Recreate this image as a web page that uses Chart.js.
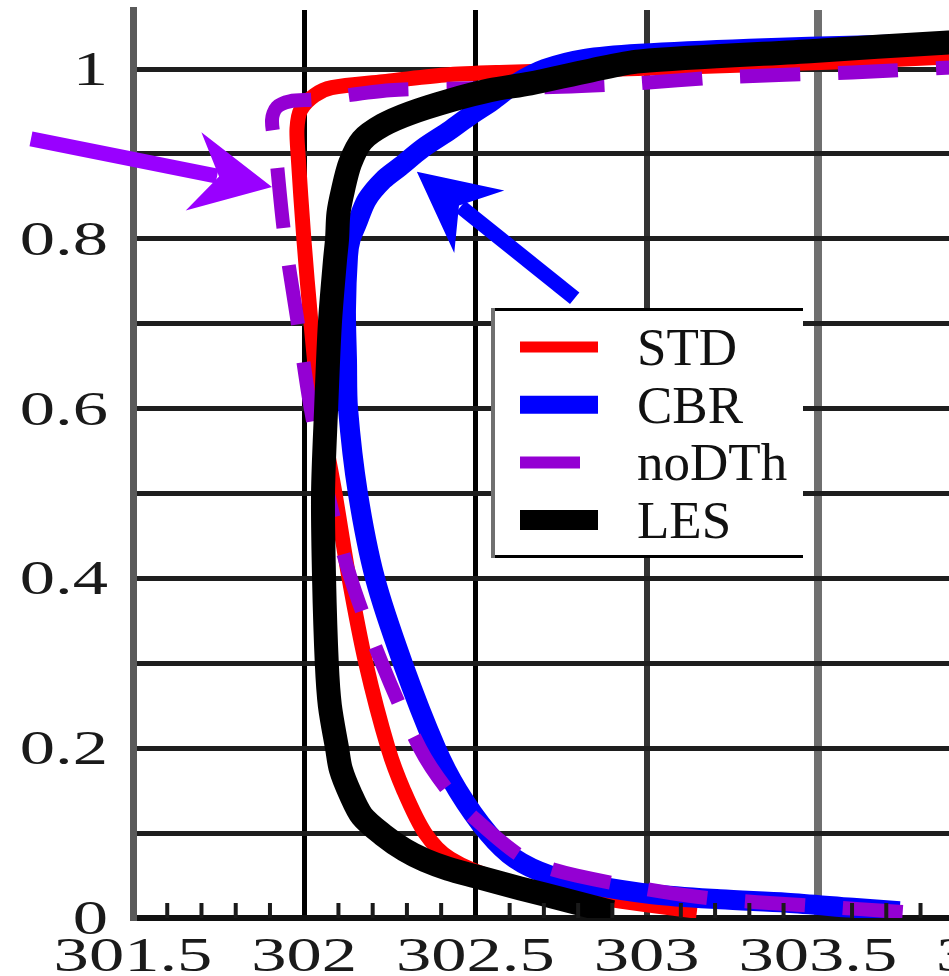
<!DOCTYPE html>
<html>
<head>
<meta charset="utf-8">
<script src="https://cdn.jsdelivr.net/npm/chart.js@4.4.1/dist/chart.umd.min.js"></script>
<style>
  html, body { margin: 0; padding: 0; background: #fff; overflow: hidden; }
  #wrap { width: 949px; height: 976px; overflow: hidden; }
</style>
</head>
<body>
<div id="wrap"><canvas id="profile-chart" width="1010" height="976"></canvas></div>
<script>
// temperature (x) and normalised height (y) for each profile
const stdTemp = [303.147, 303.068, 302.922, 302.747, 302.572, 302.426, 302.353, 302.291, 302.245, 302.18, 302.131, 302.09, 302.046, 302.02, 301.999, 301.982, 301.979, 301.99, 302.03, 302.08, 302.23, 302.41, 302.57, 303.0, 303.53, 303.88, 304.1];
const stdZ    = [0.008, 0.012, 0.02, 0.03, 0.045, 0.07, 0.1, 0.15, 0.2, 0.3, 0.4, 0.5, 0.6, 0.7, 0.8, 0.9, 0.93, 0.952, 0.969, 0.978, 0.985, 0.993, 0.996, 1.001, 1.008, 1.014, 1.017];

const cbrTemp = [303.739, 303.602, 303.409, 303.214, 303.018, 302.826, 302.718, 302.615, 302.537, 302.449, 302.385, 302.288, 302.207, 302.157, 302.128, 302.125, 302.122, 302.128, 302.136, 302.154, 302.183, 302.23, 302.28, 302.347, 302.426, 302.484, 302.548, 302.615, 302.703, 302.82, 302.98, 303.3, 303.65, 303.88, 304.1];
const cbrZ    = [0.008, 0.012, 0.018, 0.022, 0.028, 0.04, 0.05, 0.07, 0.1, 0.15, 0.2, 0.3, 0.4, 0.5, 0.6, 0.657, 0.716, 0.78, 0.8, 0.818, 0.846, 0.869, 0.885, 0.907, 0.928, 0.945, 0.962, 0.982, 1.0, 1.012, 1.018, 1.024, 1.028, 1.031, 1.033];

const nodTemp = [303.748, 303.497, 303.147, 302.796, 302.645, 302.504, 302.42, 302.338, 302.227, 302.136, 302.069, 302.017, 301.979, 301.941, 301.915, 301.906, 301.92, 301.958, 302.031, 302.25, 302.45, 302.75, 302.97, 303.21, 303.6, 303.95, 304.1];
const nodZ    = [0.007, 0.014, 0.025, 0.05, 0.07, 0.115, 0.15, 0.2, 0.3, 0.4, 0.5, 0.605, 0.707, 0.808, 0.91, 0.94, 0.955, 0.962, 0.964, 0.975, 0.977, 0.979, 0.983, 0.99, 0.996, 1.003, 1.005];

const lesTemp = [302.899, 302.776, 302.63, 302.501, 302.42, 302.353, 302.294, 302.23, 302.169, 302.134, 302.107, 302.096, 302.075, 302.066, 302.058, 302.055, 302.064, 302.075, 302.09, 302.096, 302.1, 302.113, 302.134, 302.169, 302.23, 302.309, 302.426, 302.542, 302.66, 302.834, 302.98, 303.477, 303.87, 304.1];
const lesZ    = [0.007, 0.02, 0.035, 0.049, 0.058, 0.068, 0.08, 0.098, 0.12, 0.147, 0.175, 0.2, 0.25, 0.3, 0.4, 0.5, 0.6, 0.7, 0.775, 0.8, 0.83, 0.857, 0.889, 0.916, 0.934, 0.948, 0.963, 0.975, 0.983, 0.998, 1.009, 1.021, 1.031, 1.035];

const seriesNames = ['STD', 'CBR', 'noDTh', 'LES'];

const xTickLabels = [301.5, 302, 302.5, 303, 303.5, 304];
const yTickLabels = [1, 0.8, 0.6, 0.4, 0.2, 0];
const yGridValues = [0.1, 0.2, 0.3, 0.4, 0.5, 0.6, 0.7, 0.8, 0.9, 1];
const xMinorTicks = [301.6, 301.7, 301.8, 301.9, 302.1, 302.2, 302.3, 302.4, 302.6, 302.7, 302.8, 302.9, 303.1, 303.2, 303.3, 303.4, 303.6, 303.7, 303.8, 303.9];

// annotation arrows, [tail, tip] in data units
const arrowPurple = [[301.202, 0.9176], [301.906, 0.861]];
const arrowBlue   = [[302.79, 0.730], [302.329, 0.879]];

const toPoints = (xs, ys) => xs.map((x, i) => ({ x: x, y: ys[i] }));

const serif = "'Liberation Serif', 'Times New Roman', serif";
const legendWidths = [11, 18, 12, 20];

const vGridColor = ['#000', '#000', '#333', '#6f6f6f', '#555'];
const vGridWidth = [5, 5, 6, 8, 6];

function drawArrow(ctx, x, y, pts, color) {
    const tx = x.getPixelForValue(pts[0][0]), ty = y.getPixelForValue(pts[0][1]);
    const hx = x.getPixelForValue(pts[1][0]), hy = y.getPixelForValue(pts[1][1]);
    const len = Math.hypot(hx - tx, hy - ty);
    const dx = (hx - tx) / len, dy = (hy - ty) / len;
    const nx = -dy, ny = dx;
    ctx.save();
    ctx.strokeStyle = color;
    ctx.fillStyle = color;
    ctx.lineWidth = 15;
    ctx.lineCap = 'butt';
    ctx.beginPath();
    ctx.moveTo(tx, ty);
    ctx.lineTo(hx - 56 * dx, hy - 56 * dy);
    ctx.stroke();
    ctx.beginPath();
    ctx.moveTo(hx, hy);
    ctx.lineTo(hx - 80 * dx + 40 * nx, hy - 80 * dy + 40 * ny);
    ctx.lineTo(hx - 54 * dx, hy - 54 * dy);
    ctx.lineTo(hx - 80 * dx - 40 * nx, hy - 80 * dy - 40 * ny);
    ctx.closePath();
    ctx.fill();
    ctx.restore();
}

const decorations = {
    id: 'decorations',
    afterDraw(chart) {
        const ctx = chart.ctx;
        const x = chart.scales.x, y = chart.scales.y;
        const area = chart.chartArea;

        // inward minor ticks on the x axis
        ctx.save();
        ctx.strokeStyle = '#1a1a1a';
        ctx.lineWidth = 4;
        xMinorTicks.forEach(v => {
            const px = x.getPixelForValue(v);
            ctx.beginPath();
            ctx.moveTo(px, area.bottom);
            ctx.lineTo(px, area.bottom - 15);
            ctx.stroke();
        });
        ctx.restore();

        // tick labels (wide serif digits)
        ctx.save();
        ctx.fillStyle = '#1a1a1a';
        ctx.font = '48px ' + serif;
        yTickLabels.forEach(v => {
            ctx.save();
            ctx.translate(area.left - 25, y.getPixelForValue(v) + 16);
            ctx.scale(1.47, 1);
            ctx.textAlign = 'right';
            ctx.fillText(String(v), 0, 0);
            ctx.restore();
        });
        xTickLabels.forEach(v => {
            ctx.save();
            ctx.translate(x.getPixelForValue(v), area.bottom + 53);
            ctx.scale(1.47, 1);
            ctx.textAlign = 'center';
            ctx.fillText(String(v), 0, 0);
            ctx.restore();
        });
        ctx.restore();

        // legend box
        const lx = area.left + 358, ly = area.top + 298, lw = 312, lh = 250;
        ctx.save();
        ctx.fillStyle = '#fff';
        ctx.fillRect(lx, ly, lw, lh);
        ctx.strokeStyle = '#000';
        ctx.lineWidth = 3;
        ctx.beginPath();
        ctx.moveTo(lx, ly + 1.5); ctx.lineTo(lx + lw, ly + 1.5);
        ctx.moveTo(lx, ly + lh - 1.5); ctx.lineTo(lx + lw, ly + lh - 1.5);
        ctx.stroke();
        ctx.strokeStyle = '#707070';
        ctx.lineWidth = 4;
        ctx.beginPath();
        ctx.moveTo(lx + 2, ly); ctx.lineTo(lx + 2, ly + lh);
        ctx.stroke();
        ctx.font = '53px ' + serif;
        ctx.textAlign = 'left';
        chart.data.datasets.forEach((ds, i) => {
            const cy = ly + 39 + i * 57.7;
            ctx.save();
            ctx.strokeStyle = ds.borderColor;
            ctx.lineWidth = legendWidths[i];
            ctx.lineCap = 'butt';
            ctx.setLineDash(ds.borderDash || []);
            ctx.beginPath();
            ctx.moveTo(lx + 29, cy);
            ctx.lineTo(lx + 107, cy);
            ctx.stroke();
            ctx.restore();
            ctx.fillStyle = '#111';
            ctx.fillText(ds.label, lx + 146, cy + 18);
        });
        ctx.restore();

        drawArrow(ctx, x, y, arrowPurple, '#9900ff');
        drawArrow(ctx, x, y, arrowBlue, '#0000ff');
    }
};

new Chart(document.getElementById('profile-chart'), {
    type: 'scatter',
    data: {
        datasets: [
            { label: seriesNames[0], data: toPoints(stdTemp, stdZ), borderColor: '#ff0000', borderWidth: 15, order: 4 },
            { label: seriesNames[1], data: toPoints(cbrTemp, cbrZ), borderColor: '#0000ff', borderWidth: 20, order: 3 },
            { label: seriesNames[2], data: toPoints(nodTemp, nodZ), borderColor: '#9400d3', borderWidth: 14, borderDash: [60, 38], order: 2 },
            { label: seriesNames[3], data: toPoints(lesTemp, lesZ), borderColor: '#000000', borderWidth: 24, order: 1 }
        ].map(ds => Object.assign(ds, { showLine: true, pointRadius: 0, fill: false, tension: 0.3, borderCapStyle: 'butt' }))
    },
    options: {
        responsive: false,
        animation: false,
        devicePixelRatio: 1,
        layout: { padding: { top: 10, right: 21, left: 0, bottom: 0 } },
        plugins: { legend: { display: false }, tooltip: { enabled: false } },
        scales: {
            x: {
                type: 'linear',
                min: 301.5,
                max: 304,
                afterBuildTicks: s => { s.ticks = xTickLabels.slice(1).map(v => ({ value: v })); },
                afterFit: s => { s.height = 58; },
                ticks: { display: false },
                grid: {
                    drawTicks: false,
                    color: c => vGridColor[c.index] || '#333',
                    lineWidth: c => vGridWidth[c.index] || 5
                },
                border: { display: true, color: '#111', width: 6 }
            },
            y: {
                type: 'linear',
                min: 0,
                max: 1.0695,
                afterBuildTicks: s => { s.ticks = yGridValues.map(v => ({ value: v })); },
                afterFit: s => { s.width = 133; },
                ticks: { display: false },
                grid: { drawTicks: false, color: '#1e1e1e', lineWidth: 5 },
                border: { display: true, color: '#5a5a5a', width: 7 }
            }
        }
    },
    plugins: [decorations]
});
</script>
</body>
</html>
